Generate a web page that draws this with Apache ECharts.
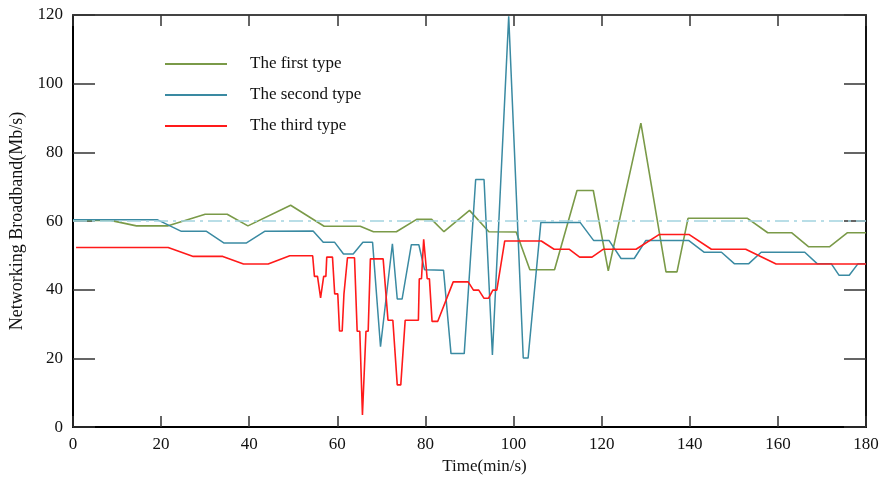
<!DOCTYPE html>
<html>
<head>
<meta charset="utf-8">
<script src="https://cdn.jsdelivr.net/npm/echarts@6/dist/echarts.min.js"></script>
<style>
  html, body { margin: 0; padding: 0; background: #fff; }
  #chart { width: 882px; height: 480px; }
</style>
</head>
<body>
<div id="chart"></div>
<script>
// Networking bandwidth of three traffic types over time
const seriesNames = ['The first type', 'The second type', 'The third type'];

const firstTime = [0, 8.5, 14.4, 21.6, 30.0, 35.0, 39.7, 49.4, 57.0, 65.2, 68.2, 73.4, 78.0, 81.4, 84.2, 90.0, 94.4, 100.6, 103.7, 109.3, 114.4, 118.1, 121.5, 128.9, 134.6, 137.1, 139.6, 153.1, 157.7, 163.1, 167.0, 171.7, 175.8, 180];
const firstRate = [60.2, 60.2, 58.6, 58.6, 62.0, 62.0, 58.6, 64.6, 58.5, 58.5, 56.9, 56.9, 60.5, 60.5, 56.9, 63.1, 56.9, 56.8, 45.8, 45.8, 68.9, 68.9, 45.5, 88.5, 45.2, 45.2, 60.8, 60.8, 56.6, 56.6, 52.5, 52.5, 56.6, 56.6];

const secondTime = [0, 19.1, 24.6, 30.3, 34.3, 39.3, 43.5, 54.5, 56.8, 59.4, 61.4, 63.6, 65.8, 68.0, 69.8, 72.5, 73.6, 74.7, 76.8, 78.5, 79.8, 84.1, 85.8, 88.8, 91.4, 93.3, 95.2, 98.9, 102.2, 103.3, 106.2, 115.1, 118.2, 121.7, 124.4, 127.4, 130.0, 139.8, 143.3, 147.2, 150.1, 153.4, 156.2, 166.1, 168.9, 172.1, 173.9, 176.2, 178.2, 180];
const secondRate = [60.4, 60.4, 57.0, 57.0, 53.6, 53.6, 57.0, 57.1, 53.8, 53.8, 50.4, 50.4, 53.8, 53.8, 23.4, 53.4, 37.3, 37.3, 53.1, 53.1, 45.8, 45.7, 21.4, 21.4, 72.1, 72.1, 21.0, 119.6, 20.1, 20.1, 59.6, 59.6, 54.3, 54.3, 49.1, 49.1, 54.3, 54.3, 50.9, 50.9, 47.6, 47.6, 50.9, 50.9, 47.6, 47.6, 44.2, 44.2, 47.6, 47.6];

const thirdTime = [0.7, 21.6, 27.3, 34.0, 38.7, 44.3, 49.2, 54.4, 54.8, 55.5, 56.2, 56.5, 56.9, 57.4, 57.6, 58.9, 59.4, 60.1, 60.5, 61.1, 61.5, 61.8, 62.3, 63.9, 64.5, 65.1, 65.7, 66.1, 66.5, 67.0, 67.5, 70.4, 71.5, 72.6, 73.6, 74.4, 75.4, 78.4, 78.6, 79.1, 79.6, 80.0, 80.4, 80.9, 81.5, 82.8, 86.3, 89.7, 90.9, 92.1, 93.3, 94.3, 95.3, 96.2, 98.0, 106.3, 109.2, 112.6, 115.0, 117.8, 120.4, 127.8, 133.1, 139.8, 144.9, 152.7, 159.6, 180];
const thirdRate = [52.3, 52.3, 49.7, 49.7, 47.5, 47.5, 49.9, 49.9, 43.9, 43.9, 37.6, 37.6, 43.9, 43.9, 49.5, 49.5, 38.8, 38.8, 28.0, 28.0, 38.7, 38.7, 49.3, 49.3, 27.9, 27.9, 3.5, 3.5, 27.9, 27.9, 49.0, 49.0, 31.1, 31.1, 12.3, 12.3, 31.1, 31.1, 43.2, 43.2, 54.7, 54.7, 43.2, 43.2, 30.8, 30.8, 42.3, 42.3, 39.9, 39.9, 37.5, 37.5, 39.9, 39.9, 54.2, 54.2, 51.8, 51.8, 49.5, 49.5, 51.8, 51.8, 56.1, 56.1, 51.8, 51.8, 47.5, 47.5];

// Reference level drawn as a dash-dot line
const referenceRate = 60;

const seriesColors = ['#7a9a48', '#3a8aa2', '#ff1a1a'];
const serif = 'Liberation Serif';

function pairs(xs, ys) {
  return xs.map((x, i) => [x, ys[i]]);
}

const axisFont = { fontFamily: serif, fontSize: 17, color: '#111' };

function xAxisDef(pos, withLabels) {
  return {
    type: 'value', position: pos, min: 0, max: 180, interval: 20,
    axisLine: { show: true, onZero: false, lineStyle: { color: withLabels ? '#000' : '#444', width: 2 } },
    axisTick: { show: true, inside: true, length: 11, lineStyle: { color: '#333', width: 1.5 } },
    axisLabel: Object.assign({ show: withLabels, margin: 9 }, axisFont),
    splitLine: { show: false },
    name: withLabels ? 'Time(min/s)' : '',
    nameLocation: 'middle', nameGap: 30,
    nameTextStyle: { fontFamily: serif, fontSize: 17, color: '#111', padding: [0, 0, 0, 30] }
  };
}

function yAxisDef(pos, withLabels) {
  return {
    type: 'value', position: pos, min: 0, max: 120, interval: 20,
    axisLine: { show: true, onZero: false, lineStyle: { color: withLabels ? '#000' : '#111', width: 2 } },
    axisTick: { show: true, inside: true, length: 22, lineStyle: { color: '#333', width: 1.5 } },
    axisLabel: Object.assign({ show: withLabels, margin: 10 }, axisFont),
    splitLine: { show: false },
    name: withLabels ? 'Networking Broadband(Mb/s)' : '',
    nameLocation: 'middle', nameGap: 46,
    nameTextStyle: { fontFamily: serif, fontSize: 18, color: '#111' }
  };
}

function lineSeries(name, data, color, width, extra) {
  return Object.assign({
    name, type: 'line', data,
    symbol: 'none', showSymbol: false,
    lineStyle: { color, width },
    itemStyle: { color },
    animation: false
  }, extra || {});
}

const chart = echarts.init(document.getElementById('chart'), null, { renderer: 'canvas' });
chart.setOption({
  backgroundColor: '#fff',
  animation: false,
  grid: { left: 73, right: 16, top: 15, bottom: 52 },
  legend: {
    data: seriesNames,
    orient: 'vertical', left: 165, top: 54, padding: 0,
    icon: 'rect',
    itemWidth: 62, itemHeight: 2, itemGap: 11,
    textStyle: { fontFamily: serif, fontSize: 17, color: '#111', padding: [0, 0, 0, 18], lineHeight: 20 }
  },
  xAxis: [xAxisDef('bottom', true), xAxisDef('top', false)],
  yAxis: [yAxisDef('left', true), yAxisDef('right', false)],
  series: [
    lineSeries(seriesNames[0], pairs(firstTime, firstRate), seriesColors[0], 1.6, {
      markLine: {
        silent: true, symbol: 'none', label: { show: false },
        lineStyle: { color: '#a3d4e0', width: 1.5, type: [14, 5, 3, 5] },
        data: [{ yAxis: referenceRate }]
      }
    }),
    lineSeries(seriesNames[1], pairs(secondTime, secondRate), seriesColors[1], 1.5),
    lineSeries(seriesNames[2], pairs(thirdTime, thirdRate), seriesColors[2], 1.6)
  ]
});
</script>
</body>
</html>
